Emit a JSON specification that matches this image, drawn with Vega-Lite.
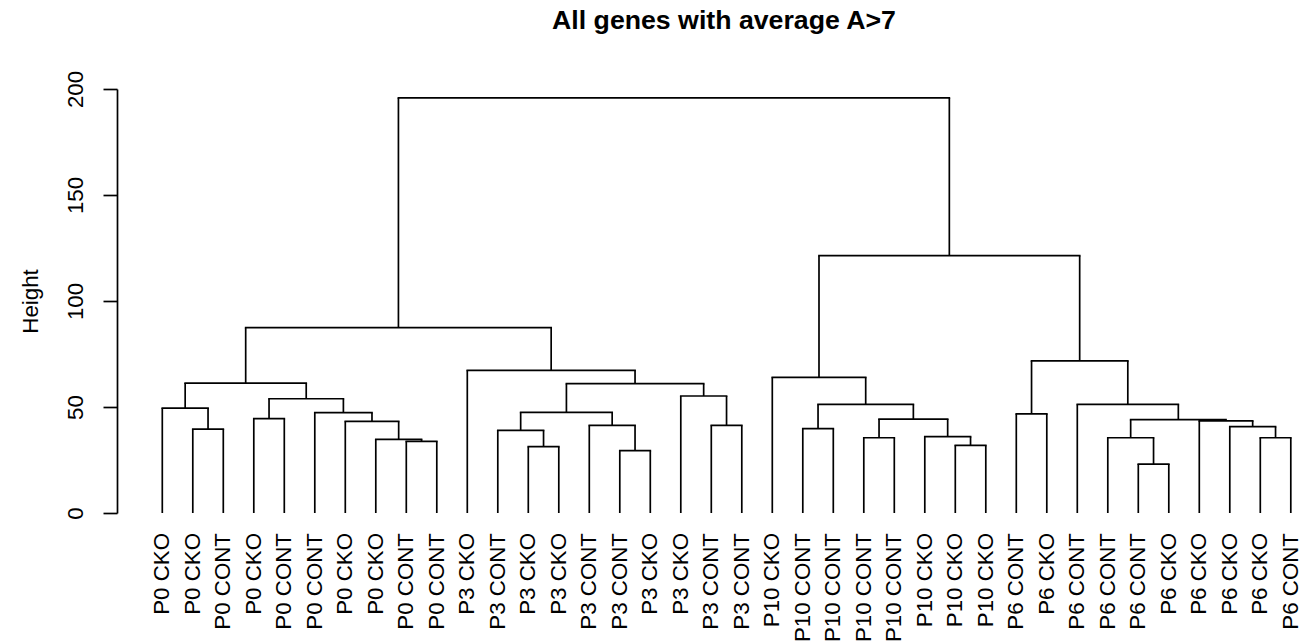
{
  "$schema": "https://vega.github.io/schema/vega-lite/v6.json",
  "autosize": {"type": "none"},
  "padding": {"left": 117, "top": 89, "right": 0, "bottom": 128},
  "width": 1187,
  "height": 424,
  "background": "white",
  "title": {
    "text": "All genes with average A>7",
    "font": "Liberation Sans",
    "fontSize": 26.7,
    "fontWeight": "bold",
    "color": "black",
    "anchor": "middle",
    "dx": 13.5,
    "offset": 15,
    "baseline": "alphabetic"
  },
  "config": {
    "view": {"stroke": null},
    "axisY": {
      "grid": false,
      "tickSize": 14,
      "tickWidth": 1.7,
      "tickColor": "black",
      "domainColor": "black",
      "domainWidth": 1.7,
      "labelAngle": 270,
      "labelAlign": "center",
      "labelBaseline": "middle",
      "labelPadding": 27.5,
      "labelFont": "Liberation Sans",
      "labelFontSize": 22.3,
      "labelColor": "black",
      "labelFlush": false,
      "labelOverlap": false,
      "titleFont": "Liberation Sans",
      "titleFontSize": 22.3,
      "titleFontWeight": "normal",
      "titleColor": "black",
      "titleAngle": 270,
      "titleAlign": "center",
      "titleBaseline": "middle",
      "titleX": -87,
      "titleY": 212
    }
  },
  "datasets": {
    "merges": [
      {"xl": 2, "hl": 0, "xr": 3, "hr": 0, "h": 39.6},
      {"xl": 1, "hl": 0, "xr": 2.5, "hr": 39.6, "h": 49.5},
      {"xl": 4, "hl": 0, "xr": 5, "hr": 0, "h": 44.5},
      {"xl": 9, "hl": 0, "xr": 10, "hr": 0, "h": 33.8},
      {"xl": 8, "hl": 0, "xr": 9.5, "hr": 33.8, "h": 34.7},
      {"xl": 7, "hl": 0, "xr": 8.75, "hr": 34.7, "h": 43.2},
      {"xl": 6, "hl": 0, "xr": 7.875, "hr": 43.2, "h": 47.3},
      {"xl": 4.5, "hl": 44.5, "xr": 6.9375, "hr": 47.3, "h": 53.9},
      {"xl": 1.75, "hl": 49.5, "xr": 5.71875, "hr": 53.9, "h": 61.3},
      {"xl": 13, "hl": 0, "xr": 14, "hr": 0, "h": 31.3},
      {"xl": 12, "hl": 0, "xr": 13.5, "hr": 31.3, "h": 39.0},
      {"xl": 16, "hl": 0, "xr": 17, "hr": 0, "h": 29.4},
      {"xl": 15, "hl": 0, "xr": 16.5, "hr": 29.4, "h": 41.3},
      {"xl": 12.75, "hl": 39.0, "xr": 15.75, "hr": 41.3, "h": 47.5},
      {"xl": 19, "hl": 0, "xr": 20, "hr": 0, "h": 41.3},
      {"xl": 18, "hl": 0, "xr": 19.5, "hr": 41.3, "h": 55.2},
      {"xl": 14.25, "hl": 47.5, "xr": 18.75, "hr": 55.2, "h": 61.0},
      {"xl": 11, "hl": 0, "xr": 16.5, "hr": 61.0, "h": 67.3},
      {"xl": 3.734375, "hl": 61.3, "xr": 13.75, "hr": 67.3, "h": 87.4},
      {"xl": 22, "hl": 0, "xr": 23, "hr": 0, "h": 39.8},
      {"xl": 24, "hl": 0, "xr": 25, "hr": 0, "h": 35.5},
      {"xl": 27, "hl": 0, "xr": 28, "hr": 0, "h": 31.9},
      {"xl": 26, "hl": 0, "xr": 27.5, "hr": 31.9, "h": 36.0},
      {"xl": 24.5, "hl": 35.5, "xr": 26.75, "hr": 36.0, "h": 44.3},
      {"xl": 22.5, "hl": 39.8, "xr": 25.625, "hr": 44.3, "h": 51.2},
      {"xl": 21, "hl": 0, "xr": 24.0625, "hr": 51.2, "h": 64.0},
      {"xl": 29, "hl": 0, "xr": 30, "hr": 0, "h": 46.8},
      {"xl": 33, "hl": 0, "xr": 34, "hr": 0, "h": 23.1},
      {"xl": 32, "hl": 0, "xr": 33.5, "hr": 23.1, "h": 35.5},
      {"xl": 37, "hl": 0, "xr": 38, "hr": 0, "h": 35.5},
      {"xl": 36, "hl": 0, "xr": 37.5, "hr": 35.5, "h": 40.7},
      {"xl": 35, "hl": 0, "xr": 36.75, "hr": 40.7, "h": 43.5},
      {"xl": 32.75, "hl": 35.5, "xr": 35.875, "hr": 43.5, "h": 44.0},
      {"xl": 31, "hl": 0, "xr": 34.3125, "hr": 44.0, "h": 51.2},
      {"xl": 29.5, "hl": 46.8, "xr": 32.65625, "hr": 51.2, "h": 71.8},
      {"xl": 22.53125, "hl": 64.0, "xr": 31.078125, "hr": 71.8, "h": 121.4},
      {"xl": 8.7421875, "hl": 87.4, "xr": 26.8046875, "hr": 121.4, "h": 195.8}
    ],
    "leaves": [
      {"i": 1, "label": "P0 CKO"}, {"i": 2, "label": "P0 CKO"}, {"i": 3, "label": "P0 CONT"},
      {"i": 4, "label": "P0 CKO"}, {"i": 5, "label": "P0 CONT"}, {"i": 6, "label": "P0 CONT"},
      {"i": 7, "label": "P0 CKO"}, {"i": 8, "label": "P0 CKO"}, {"i": 9, "label": "P0 CONT"},
      {"i": 10, "label": "P0 CONT"}, {"i": 11, "label": "P3 CKO"}, {"i": 12, "label": "P3 CONT"},
      {"i": 13, "label": "P3 CKO"}, {"i": 14, "label": "P3 CKO"}, {"i": 15, "label": "P3 CONT"},
      {"i": 16, "label": "P3 CONT"}, {"i": 17, "label": "P3 CKO"}, {"i": 18, "label": "P3 CKO"},
      {"i": 19, "label": "P3 CONT"}, {"i": 20, "label": "P3 CONT"}, {"i": 21, "label": "P10 CKO"},
      {"i": 22, "label": "P10 CONT"}, {"i": 23, "label": "P10 CONT"}, {"i": 24, "label": "P10 CONT"},
      {"i": 25, "label": "P10 CONT"}, {"i": 26, "label": "P10 CKO"}, {"i": 27, "label": "P10 CKO"},
      {"i": 28, "label": "P10 CKO"}, {"i": 29, "label": "P6 CONT"}, {"i": 30, "label": "P6 CKO"},
      {"i": 31, "label": "P6 CONT"}, {"i": 32, "label": "P6 CONT"}, {"i": 33, "label": "P6 CONT"},
      {"i": 34, "label": "P6 CKO"}, {"i": 35, "label": "P6 CKO"}, {"i": 36, "label": "P6 CKO"},
      {"i": 37, "label": "P6 CKO"}, {"i": 38, "label": "P6 CONT"}
    ]
  },
  "layer": [
    {
      "data": {"name": "merges"},
      "mark": {"type": "rule", "color": "black", "strokeWidth": 1.7, "strokeCap": "square"},
      "encoding": {
        "x": {"field": "xl", "type": "quantitative", "scale": {"domain": [-0.485, 38.433], "nice": false, "zero": false}, "axis": null},
        "x2": {"field": "xr"},
        "y": {"field": "h", "type": "quantitative", "scale": {"domain": [0, 200], "nice": false}, "title": "Height", "axis": {"values": [0, 50, 100, 150, 200]}}
      }
    },
    {
      "data": {"name": "merges"},
      "mark": {"type": "rule", "color": "black", "strokeWidth": 1.7},
      "encoding": {
        "x": {"field": "xl", "type": "quantitative", "axis": null},
        "y": {"field": "hl", "type": "quantitative", "title": "Height", "axis": {"values": [0, 50, 100, 150, 200]}},
        "y2": {"field": "h"}
      }
    },
    {
      "data": {"name": "merges"},
      "mark": {"type": "rule", "color": "black", "strokeWidth": 1.7},
      "encoding": {
        "x": {"field": "xr", "type": "quantitative", "axis": null},
        "y": {"field": "hr", "type": "quantitative", "title": "Height", "axis": {"values": [0, 50, 100, 150, 200]}},
        "y2": {"field": "h"}
      }
    },
    {
      "data": {"name": "leaves"},
      "mark": {"type": "text", "angle": 270, "align": "right", "baseline": "middle", "dx": -20, "font": "Liberation Sans", "fontSize": 22.3, "color": "black"},
      "encoding": {
        "x": {"field": "i", "type": "quantitative", "axis": null},
        "y": {"datum": 0, "type": "quantitative", "title": "Height", "axis": {"values": [0, 50, 100, 150, 200]}},
        "text": {"field": "label"}
      }
    }
  ]
}
